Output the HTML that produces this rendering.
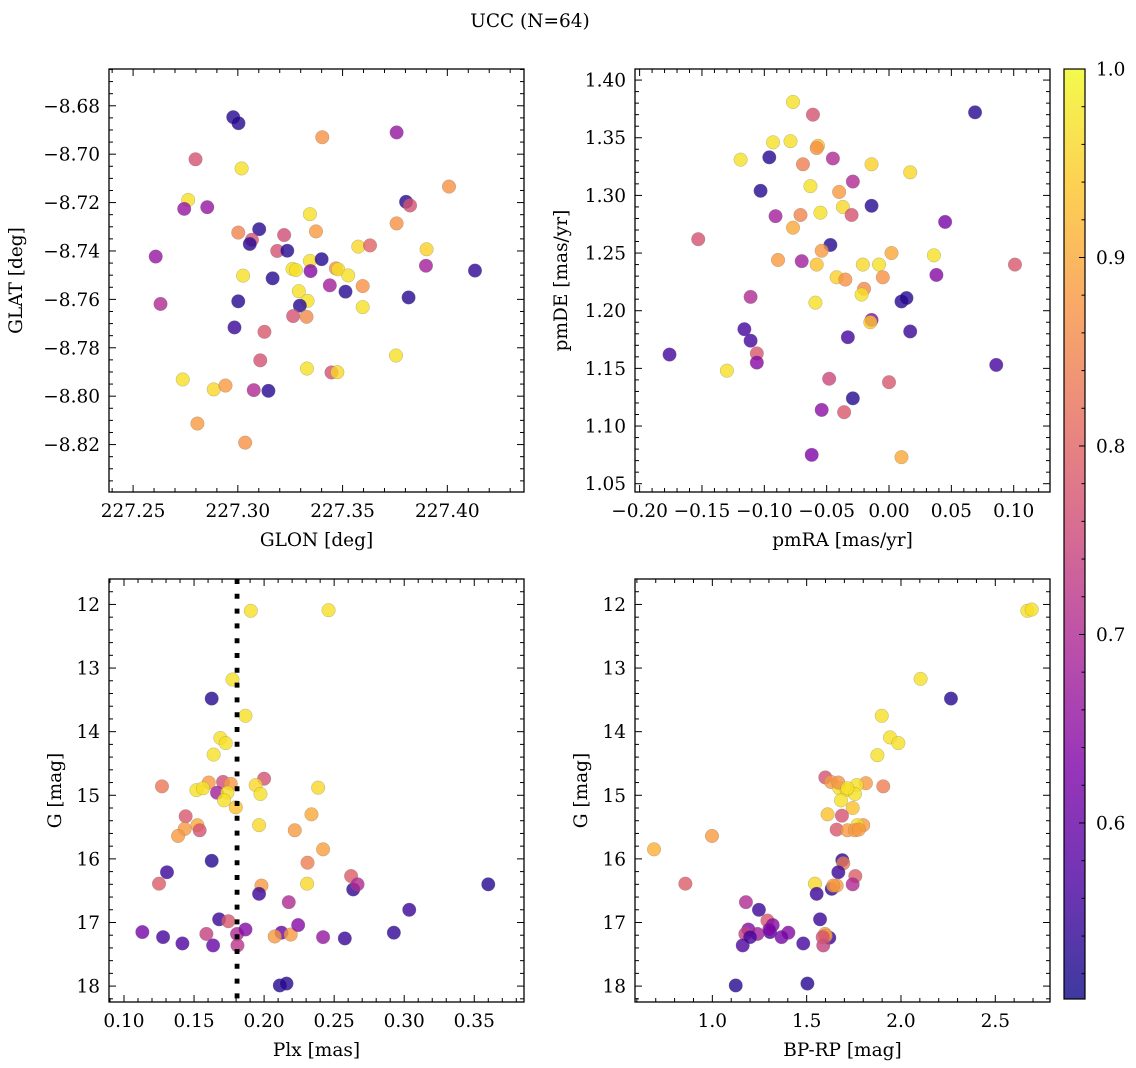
<!DOCTYPE html>
<html><head><meta charset="utf-8"><style>
html,body{margin:0;padding:0;background:#fff;}
svg{display:block;font-family:"DejaVu Serif","Liberation Serif",serif;}
</style></head><body>
<svg id="fig" width="1136" height="1068" viewBox="0 0 1136 1068" xmlns="http://www.w3.org/2000/svg">
<defs>
<linearGradient id="cbgrad" x1="0" y1="1" x2="0" y2="0">
<stop offset="0" stop-color="#0d0887"/><stop offset="0.125" stop-color="#4c02a1"/><stop offset="0.25" stop-color="#7e03a8"/><stop offset="0.375" stop-color="#a92395"/><stop offset="0.5" stop-color="#cc4778"/><stop offset="0.625" stop-color="#e66c5c"/><stop offset="0.75" stop-color="#f89540"/><stop offset="0.875" stop-color="#fdc527"/><stop offset="1" stop-color="#f0f921"/>
</linearGradient>
</defs>
<text x="530" y="27" font-size="18.5" text-anchor="middle">UCC (N=64)</text>
</svg>
<script>
// ---- Panel 1: GLON vs GLAT ----
const p1Glon = [227.2978,227.3003,227.3403,227.3758,227.2798,227.3018,227.2763,227.2744,227.2854,227.3803,227.3822,227.4008,227.3344,227.3002,227.3102,227.3067,227.3057,227.3221,227.3373,227.3758,227.3188,227.3236,227.2608,227.3575,227.3631,227.3901,227.3344,227.3400,227.3261,227.3277,227.3347,227.3468,227.3479,227.3527,227.3898,227.4132,227.3025,227.3166,227.3439,227.3514,227.3596,227.3291,227.3333,227.3296,227.3002,227.3815,227.3596,227.2631,227.3264,227.3328,227.2984,227.3127,227.3755,227.3107,227.3330,227.3447,227.3475,227.2737,227.2885,227.2941,227.3076,227.3146,227.2807,227.3035];
const p1Glat = [-8.6847,-8.6872,-8.6930,-8.6910,-8.7021,-8.7059,-8.7189,-8.7226,-8.7219,-8.7197,-8.7212,-8.7134,-8.7248,-8.7324,-8.7310,-8.7354,-8.7371,-8.7334,-8.7319,-8.7286,-8.7400,-8.7399,-8.7423,-8.7382,-8.7377,-8.7393,-8.7441,-8.7434,-8.7474,-8.7479,-8.7483,-8.7472,-8.7476,-8.7501,-8.7461,-8.7481,-8.7502,-8.7513,-8.7542,-8.7568,-8.7545,-8.7566,-8.7606,-8.7626,-8.7608,-8.7592,-8.7632,-8.7619,-8.7669,-8.7672,-8.7716,-8.7734,-8.7832,-8.7852,-8.7886,-8.7902,-8.7901,-8.7931,-8.7972,-8.7956,-8.7975,-8.7978,-8.8113,-8.8192];
const p1Prob = [0.53,0.53,0.87,0.66,0.77,0.97,0.97,0.66,0.66,0.53,0.77,0.87,0.97,0.85,0.53,0.77,0.53,0.76,0.88,0.87,0.77,0.53,0.66,0.96,0.80,0.95,0.97,0.53,0.97,0.97,0.64,0.87,0.97,0.97,0.68,0.54,0.97,0.53,0.68,0.53,0.87,0.97,0.97,0.53,0.53,0.53,0.97,0.70,0.77,0.86,0.55,0.78,0.97,0.77,0.97,0.77,0.96,0.97,0.96,0.88,0.70,0.53,0.88,0.87];

// ---- Panel 2: pmRA vs pmDE ----
const p2PmRA = [0.069,-0.077,-0.061,-0.093,-0.079,-0.057,-0.058,-0.119,-0.096,-0.069,-0.045,-0.014,0.017,-0.029,-0.103,-0.063,-0.040,-0.014,-0.037,-0.091,-0.071,-0.055,-0.030,-0.077,0.045,-0.153,-0.047,-0.054,-0.089,-0.070,-0.058,0.002,0.036,-0.021,-0.008,0.101,0.038,-0.042,-0.035,-0.005,-0.020,-0.022,-0.111,0.010,0.014,-0.059,-0.014,-0.015,-0.116,0.017,-0.111,-0.033,-0.106,-0.106,-0.176,0.086,-0.130,-0.048,0.000,-0.029,-0.054,-0.036,-0.062,0.010];
const p2PmDE = [1.372,1.381,1.370,1.346,1.347,1.343,1.341,1.331,1.333,1.327,1.332,1.327,1.320,1.312,1.304,1.308,1.303,1.291,1.290,1.282,1.283,1.285,1.283,1.272,1.277,1.262,1.257,1.252,1.244,1.243,1.240,1.250,1.248,1.240,1.240,1.240,1.231,1.229,1.227,1.229,1.219,1.214,1.212,1.208,1.211,1.207,1.192,1.190,1.184,1.182,1.174,1.177,1.163,1.155,1.162,1.153,1.148,1.141,1.138,1.124,1.114,1.112,1.075,1.073];
const p2Prob = [0.53,0.97,0.77,0.97,0.97,0.93,0.87,0.97,0.53,0.84,0.70,0.95,0.96,0.70,0.53,0.97,0.88,0.53,0.96,0.68,0.85,0.97,0.77,0.90,0.62,0.77,0.53,0.88,0.88,0.68,0.93,0.90,0.97,0.96,0.97,0.78,0.64,0.95,0.87,0.87,0.86,0.97,0.70,0.53,0.53,0.97,0.64,0.94,0.56,0.55,0.56,0.56,0.78,0.64,0.56,0.56,0.97,0.75,0.78,0.53,0.65,0.78,0.63,0.90];

// ---- Panel 3: Plx vs G ----
const p3Plx = [0.1905,0.2460,0.1774,0.1626,0.1867,0.1688,0.1726,0.1640,0.2000,0.1271,0.1605,0.1707,0.1762,0.1517,0.1564,0.1664,0.1738,0.1940,0.1974,0.2386,0.1714,0.1798,0.2338,0.1440,0.1964,0.1524,0.1540,0.1433,0.1386,0.2219,0.2421,0.1626,0.2310,0.1307,0.1250,0.1981,0.2307,0.1964,0.2621,0.2636,0.2667,0.3600,0.2176,0.3036,0.1679,0.1745,0.1131,0.1279,0.1417,0.1588,0.1636,0.1807,0.1810,0.1867,0.2124,0.2076,0.2190,0.2243,0.2421,0.2576,0.2926,0.2112,0.2160];
const p3G = [12.10,12.09,13.18,13.48,13.75,14.10,14.18,14.36,14.74,14.86,14.80,14.79,14.82,14.92,14.89,14.96,14.96,14.84,14.98,14.88,15.08,15.19,15.30,15.33,15.47,15.47,15.55,15.53,15.64,15.55,15.85,16.03,16.06,16.21,16.39,16.42,16.39,16.55,16.27,16.48,16.40,16.40,16.68,16.80,16.95,16.98,17.15,17.23,17.33,17.18,17.36,17.18,17.36,17.11,17.16,17.22,17.19,17.04,17.23,17.25,17.16,17.99,17.96];
const p3Prob = [0.97,0.97,0.97,0.53,0.97,0.97,0.97,0.97,0.77,0.83,0.88,0.76,0.88,0.97,0.97,0.68,0.97,0.96,0.97,0.96,0.97,0.93,0.90,0.78,0.96,0.90,0.77,0.88,0.88,0.88,0.89,0.53,0.84,0.55,0.79,0.88,0.96,0.55,0.79,0.54,0.70,0.53,0.70,0.55,0.55,0.78,0.62,0.56,0.57,0.74,0.60,0.70,0.72,0.64,0.60,0.88,0.88,0.64,0.66,0.55,0.54,0.53,0.53];

// ---- Panel 4: BP-RP vs G ----
const p4Bprp = [2.670,2.693,2.104,2.265,1.898,1.942,1.986,1.875,1.599,1.629,1.814,1.765,1.906,1.673,1.712,1.756,1.682,1.744,1.611,1.687,1.659,1.716,1.800,1.769,1.756,0.998,0.691,1.689,1.694,1.668,1.758,0.857,1.544,1.633,1.659,1.744,1.553,1.178,1.247,1.571,1.292,1.320,1.191,1.175,1.239,1.306,1.403,1.367,1.620,1.597,1.601,1.588,1.161,1.482,1.124,1.504,1.200,1.302,1.668,1.716,1.776,1.641,1.585];
const p4G = [12.10,12.08,13.17,13.48,13.75,14.09,14.18,14.37,14.72,14.79,14.81,14.84,14.86,14.89,14.92,14.98,15.08,15.20,15.30,15.32,15.54,15.55,15.47,15.47,15.55,15.64,15.85,16.02,16.07,16.21,16.27,16.39,16.39,16.47,16.42,16.40,16.55,16.68,16.80,16.95,16.97,17.04,17.11,17.18,17.18,17.15,17.16,17.23,17.24,17.18,17.21,17.36,17.36,17.33,17.99,17.96,17.23,17.11,14.80,14.89,15.54,16.42,17.23];
const p4Prob = [0.97,0.97,0.97,0.53,0.97,0.97,0.97,0.97,0.77,0.88,0.88,0.97,0.84,0.97,0.97,0.97,0.97,0.93,0.93,0.77,0.78,0.88,0.88,0.96,0.88,0.88,0.91,0.53,0.83,0.55,0.79,0.79,0.96,0.54,0.88,0.70,0.55,0.70,0.55,0.55,0.78,0.64,0.64,0.74,0.68,0.56,0.64,0.62,0.55,0.88,0.88,0.74,0.57,0.56,0.53,0.53,0.56,0.64,0.87,0.97,0.88,0.88,0.77];

// ---- tick labels ----
const p1XTicks = [227.25,227.30,227.35,227.40];
const p1YTicks = [-8.68,-8.70,-8.72,-8.74,-8.76,-8.78,-8.80,-8.82];
const p2XTicks = [-0.20,-0.15,-0.10,-0.05,0.00,0.05,0.10];
const p2YTicks = [1.05,1.10,1.15,1.20,1.25,1.30,1.35,1.40];
const p3XTicks = [0.10,0.15,0.20,0.25,0.30,0.35];
const gTicks = [12,13,14,15,16,17,18];
const p4XTicks = [1.0,1.5,2.0,2.5];
const cbTicks = [0.6,0.7,0.8,0.9,1.0];
const plxLine = [0.1807];

const NS = "http://www.w3.org/2000/svg";
const svg = document.getElementById('fig');
const FS = 18.5;
const VMIN = 0.5066, VMAX = 1.0;
const plasma = [[13,8,135],[76,2,161],[126,3,168],[169,35,149],[204,71,120],[230,108,92],[248,149,64],[253,197,39],[240,249,33]];
function cmap(v){
  let t = (v - VMIN) / (VMAX - VMIN); t = Math.max(0, Math.min(1, t));
  const f = t * (plasma.length - 1); const i = Math.min(plasma.length - 2, Math.floor(f)); const r = f - i;
  const c = plasma[i].map((a, k) => Math.round(a + (plasma[i + 1][k] - a) * r));
  return 'rgb(' + c.join(',') + ')';
}
function mk(tag, attrs, parent){
  const e = document.createElementNS(NS, tag);
  for (const k in attrs) e.setAttribute(k, attrs[k]);
  (parent || svg).appendChild(e); return e;
}
function fmt(v, d){ const s = v.toFixed(d); return s.replace('-', '\u2212'); }

function panel(cfg){
  const {name, box, xdom, ydom, xs, ys, ps, xt, yt, xd, yd, xminor, yminor, xlabel, ylabel, ylabelX} = cfg;
  const g = mk('g', {});
  
  
  const sx = v => box.x + (v - xdom[0]) / (xdom[1] - xdom[0]) * box.w;
  const sy = v => box.y + (v - ydom[0]) / (ydom[1] - ydom[0]) * box.h;
  const pg = mk('g', {}, g);
  
  
  for (let i = 0; i < xs.length; i++){
    const c = mk('circle', {cx: sx(xs[i]).toFixed(2), cy: sy(ys[i]).toFixed(2), r: 6.8, fill: cmap(ps[i]), 'fill-opacity': 0.8, stroke: '#777', 'stroke-opacity': 0.5, 'stroke-width': 0.5}, pg);
    
    
  }
  if (cfg.vline){
    for (const v of cfg.vline){
      const l = mk('line', {x1: sx(v), x2: sx(v), y1: box.y, y2: box.y + box.h, stroke: '#000', 'stroke-width': 4.8, 'stroke-dasharray': '5 9.8'}, g);
      
      
    }
  }
  const fr = mk('rect', {x: box.x, y: box.y, width: box.w, height: box.h, fill: 'none', stroke: '#000', 'stroke-width': 1.3}, g);
  
  
  const tg = mk('g', {stroke: '#000', 'stroke-width': 1}, g);
  const MJ = 7, MN = 4;
  const xmaj = xt.map(sx);
  for (let i = 0; i < xt.length; i++){
    const x = sx(xt[i]);
    mk('line', {x1: x, x2: x, y1: box.y + box.h, y2: box.y + box.h - MJ}, tg);
    mk('line', {x1: x, x2: x, y1: box.y, y2: box.y + MJ}, tg);
    const t = mk('text', {x: x, y: box.y + box.h + 25, 'font-size': FS, 'text-anchor': 'middle'}, g);
    t.textContent = fmt(xt[i], xd);
    
    
  }
  for (let v = Math.ceil(xdom[0] / xminor - 1e-9) * xminor; v <= xdom[1] + 1e-9; v += xminor){
    const x = sx(v); if (x < box.x || x > box.x + box.w) continue;
    if (xmaj.some(m => Math.abs(m - x) < 1)) continue;
    mk('line', {x1: x, x2: x, y1: box.y + box.h, y2: box.y + box.h - MN}, tg);
    mk('line', {x1: x, x2: x, y1: box.y, y2: box.y + MN}, tg);
  }
  const ymaj = yt.map(sy);
  for (let i = 0; i < yt.length; i++){
    const y = sy(yt[i]);
    mk('line', {x1: box.x, x2: box.x + MJ, y1: y, y2: y}, tg);
    mk('line', {x1: box.x + box.w, x2: box.x + box.w - MJ, y1: y, y2: y}, tg);
    const t = mk('text', {x: box.x - 9, y: y + 6.5, 'font-size': FS, 'text-anchor': 'end'}, g);
    t.textContent = fmt(yt[i], yd);
    
    
  }
  const ylo = Math.min(ydom[0], ydom[1]), yhi = Math.max(ydom[0], ydom[1]);
  for (let v = Math.ceil(ylo / yminor - 1e-9) * yminor; v <= yhi + 1e-9; v += yminor){
    const y = sy(v); if (y < box.y || y > box.y + box.h) continue;
    if (ymaj.some(m => Math.abs(m - y) < 1)) continue;
    mk('line', {x1: box.x, x2: box.x + MN, y1: y, y2: y}, tg);
    mk('line', {x1: box.x + box.w, x2: box.x + box.w - MN, y1: y, y2: y}, tg);
  }
  const xl = mk('text', {x: box.x + box.w / 2, y: box.y + box.h + 54, 'font-size': FS, 'text-anchor': 'middle'}, g);
  xl.textContent = xlabel;
  
  
  const cy = box.y + box.h / 2;
  const yl = mk('text', {x: ylabelX, y: cy, 'font-size': FS, 'text-anchor': 'middle', transform: 'rotate(-90 ' + ylabelX + ' ' + cy + ')'}, g);
  yl.textContent = ylabel;
  
  
}

panel({name: 'glon-glat-panel', box: {x: 109, y: 69, w: 415, h: 423}, xdom: [227.2385, 227.4366], ydom: [-8.6648, -8.8396],
  xs: p1Glon, ys: p1Glat, ps: p1Prob, xt: p1XTicks, yt: p1YTicks, xd: 2, yd: 2, xminor: 0.01, yminor: 0.005,
  xlabel: 'GLON [deg]', ylabel: 'GLAT [deg]', ylabelX: 22});
panel({name: 'proper-motion-panel', box: {x: 635, y: 69, w: 415, h: 423}, xdom: [-0.2037, 0.1291], ydom: [1.4096, 1.0428],
  xs: p2PmRA, ys: p2PmDE, ps: p2Prob, xt: p2XTicks, yt: p2YTicks, xd: 2, yd: 2, xminor: 0.01, yminor: 0.01,
  xlabel: 'pmRA [mas/yr]', ylabel: 'pmDE [mas/yr]', ylabelX: 567});
panel({name: 'parallax-magnitude-panel', box: {x: 109, y: 579, w: 415, h: 423}, xdom: [0.0893, 0.3855], ydom: [11.60, 18.25],
  xs: p3Plx, ys: p3G, ps: p3Prob, xt: p3XTicks, yt: gTicks, xd: 2, yd: 0, xminor: 0.01, yminor: 0.2,
  xlabel: 'Plx [mas]', ylabel: 'G [mag]', ylabelX: 61, vline: plxLine});
panel({name: 'color-magnitude-panel', box: {x: 635, y: 579, w: 415, h: 423}, xdom: [0.590, 2.790], ydom: [11.60, 18.25],
  xs: p4Bprp, ys: p4G, ps: p4Prob, xt: p4XTicks, yt: gTicks, xd: 1, yd: 0, xminor: 0.1, yminor: 0.2,
  xlabel: 'BP-RP [mag]', ylabel: 'G [mag]', ylabelX: 587});

(function(){
  const cb = {x: 1064, y: 69, w: 21, h: 930};
  const g = mk('g', {});
  
  
  const sy = v => cb.y + (VMAX - v) / (VMAX - VMIN) * cb.h;
  mk('rect', {x: cb.x, y: cb.y, width: cb.w, height: cb.h, fill: 'url(#cbgrad)', 'fill-opacity': 0.8}, g);
  mk('rect', {x: cb.x, y: cb.y, width: cb.w, height: cb.h, fill: 'none', stroke: '#000', 'stroke-width': 1.2}, g);
  for (const v of cbTicks){
    const y = sy(v);
    mk('line', {x1: cb.x + cb.w, x2: cb.x + cb.w - 6, y1: y, y2: y, stroke: '#000'}, g);
    const t = mk('text', {x: cb.x + 32, y: y + 6.5, 'font-size': FS}, g);
    t.textContent = v.toFixed(1);
    
    
  }
  for (let v = 0.52; v < 1.0; v += 0.02){
    if (cbTicks.some(m => Math.abs(m - v) < 1e-6)) continue;
    const y = sy(v);
    mk('line', {x1: cb.x + cb.w, x2: cb.x + cb.w - 3.5, y1: y, y2: y, stroke: '#000'}, g);
  }
})();
</script>
</body></html>
